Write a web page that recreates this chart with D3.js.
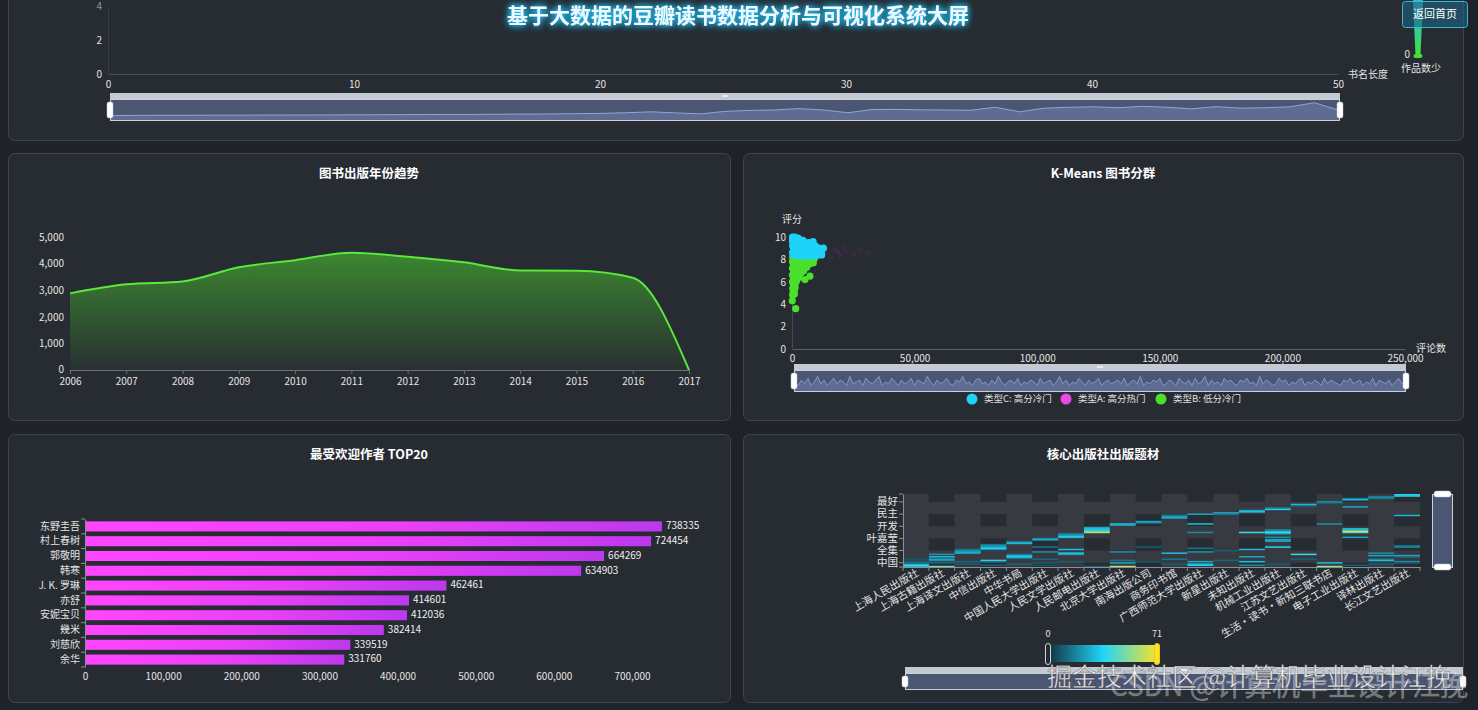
<!DOCTYPE html>
<html><head><meta charset="utf-8">
<script src="https://cdn.jsdelivr.net/npm/d3@7"></script>
<style>
body{margin:0;background:#1f2329;overflow:hidden;}
svg{display:block;font-family:"Noto Sans CJK SC","Noto Sans",sans-serif;}
</style></head><body>
<svg id="c" width="1478" height="710"></svg>
<script>
// ---------------- DATA ----------------
const pageTitle = '基于大数据的豆瓣读书数据分析与可视化系统大屏';
const titleLengthTicks = [0, 10, 20, 30, 40, 50];
const titleCountTicks = [0, 2, 4];
const titleLengthShadow = [50,51,52,52,53,53,54,55,55,56,57,58,59,60,61,62,64,65,67,70,73,80,90,78,67,95,105,110,125,110,80,115,117,112,110,107,140,90,130,140,145,135,150,140,123,147,130,135,145,190,107];

const years = [2006,2007,2008,2009,2010,2011,2012,2013,2014,2015,2016,2017];
const yearCounts = [2880,3220,3330,3860,4130,4410,4260,4050,3740,3730,3470,0];
const yearTicks = [0,1000,2000,3000,4000,5000];

const clusterNames = ['类型C: 高分冷门','类型A: 高分热门','类型B: 低分冷门'];
const clusterC = [[200,10],[1200,10],[2500,9.9],[300,9.8],[1500,9.8],[3000,9.8],[4500,9.7],[200,9.6],[1800,9.6],[3500,9.6],[5200,9.5],[6800,9.5],[8600,9.6],[500,9.4],[2200,9.4],[4000,9.4],[5800,9.3],[7500,9.3],[9500,9.2],[300,9.2],[1900,9.2],[3600,9.1],[5400,9.1],[7200,9.0],[9000,9.0],[11000,9.0],[12800,9.0],[800,8.9],[2600,8.9],[4400,8.8],[6200,8.8],[8000,8.8],[10000,8.7],[12000,8.6],[200,8.6],[1800,8.6],[3500,8.6],[5200,8.5],[7000,8.5],[8800,8.5],[10500,8.4],[12100,8.4],[500,8.4],[2300,8.3],[4200,8.3],[6000,8.3],[7800,8.3],[9500,8.3]];
const clusterA = [[14000,8.6],[17000,8.9],[19500,8.4],[22000,8.7],[25000,8.5],[16000,8.2],[28000,8.8],[21000,9.1],[31000,8.6],[18500,8.7]];
const clusterB = [[300,8.2],[2000,8.2],[3800,8.2],[5600,8.2],[7400,8.2],[9200,8.1],[800,8.0],[2600,8.0],[4400,8.0],[6200,7.9],[8200,7.9],[200,7.8],[1900,7.8],[3600,7.7],[5400,7.7],[7200,7.6],[8700,7.7],[600,7.5],[2400,7.5],[4200,7.4],[6000,7.3],[200,7.2],[1800,7.2],[3400,7.1],[4800,7.0],[700,6.9],[2200,6.8],[3800,6.8],[200,6.6],[1600,6.5],[2900,6.4],[5300,6.2],[7300,6.5],[600,6.3],[1900,6.1],[200,6.0],[1400,5.9],[600,5.7],[1300,5.5],[300,5.4],[900,5.2],[400,5.0],[1000,4.9],[300,4.8],[100,4.3],[1500,3.6]];
const reviewTicks = [0,50000,100000,150000,200000,250000];
const ratingTicks = [0,2,4,6,8,10];
const reviewShadow = [5,3,6,4,7,3,5,8,4,6,3,5,7,4,6,5,3,8,4,5,6,3,7,5,4,6,8,3,5,4,7,5,3,6,4,5,7,3,6,5,4,8,5,3,6,4,5,7,4,3,6,5,8,4,5,3,6,7,4,5,3,6,4,8,5,3,5,6,4,7,3,5,4,6,5,3,7,4,5,6,3,5,8,4,6,3,5,4,7,5,3,6,4,5,7,3,5,6,4,5,6,4,7,3,5,6,4,8,3,5,4,6,5,7,3,4,6,5,3,7,5,4,6,3,7,4,5,8,3,6,4,5,3,7,5,6,4,3,6,5,7,4,5,3,8,4,6,5,3,4,7,5,6,3,5,4,6,7,3,5,4,6,5,3,7,4,6,5,4,3,6,5,7,4,5,6,3,5,4,7,3,6,5,4,6,3,5,7,4,5];

const authors = ['东野圭吾','村上春树','郭敬明','韩寒','J. K. 罗琳','亦舒','安妮宝贝','幾米','刘慈欣','余华'];
const authorScores = [738335,724454,664269,634903,462461,414601,412036,382414,339519,331760];
const authorTicks = [0,100000,200000,300000,400000,500000,600000,700000];

const publishers = ['上海人民出版社','上海古籍出版社','上海译文出版社','中信出版社','中华书局','中国人民大学出版社','人民文学出版社','人民邮电出版社','北京大学出版社','南海出版公司','商务印书馆','广西师范大学出版社','新星出版社','未知出版社','机械工业出版社','江苏文艺出版社','生活·读书·新知三联书店','电子工业出版社','译林出版社','长江文艺出版社'];
const tags = ['小说','日本','历史','中国','文学','外国文学','传记','哲学','社会学','心理学','经济学','管理','诗歌','全集','散文','随笔','艺术','设计','建筑','电影','音乐','古典文学','诗词','叶嘉莹','编程','计算机','互联网','算法','Python','软件','Java','数据库','程序设计','开发','政治','法律','思想','文化','宗教','佛教','科普','科学','自由','民主','美国','英国','法国','德国','推理','悬疑','科幻','漫画','绘本','最好','童话','青春','爱情','成长','励志','生活'];
const tagLabelsShown = ['中国','全集','叶嘉莹','开发','民主','最好'];
const heatCells = [
 [0,0,30],[0,1,40],[0,2,28],[0,3,15],[0,4,10],[0,6,8],
 [1,3,12],[1,5,20],[1,6,25],[1,8,30],[1,10,22],[1,0,50],
 [2,11,25],[2,12,30],[2,13,20],[2,14,15],[2,4,12],[2,2,10],
 [3,14,20],[3,15,35],[3,16,30],[3,17,25],[3,18,15],[3,5,40],[3,4,15],[3,1,10],
 [4,19,30],[4,20,25],[4,7,20],[4,8,35],[4,9,30],[4,10,15],[4,2,12],
 [5,22,30],[5,23,20],[5,16,15],[5,12,20],[5,6,12],[5,3,10],[5,1,8],
 [6,24,30],[6,25,35],[6,26,25],[6,27,15],[6,14,30],[6,11,35],[6,10,25],[6,4,10],
 [7,28,60],[7,29,45],[7,30,40],[7,31,35],[7,32,25],[7,0,10],
 [8,34,25],[8,35,30],[8,12,20],[8,5,15],[8,3,25],[8,0,62],
 [9,36,20],[9,37,25],[9,16,10],[9,4,8],
 [10,40,30],[10,41,25],[10,42,15],[10,11,30],[10,6,15],[10,2,10],
 [11,43,25],[11,35,30],[11,28,20],[11,15,15],[11,12,20],[11,4,25],[11,2,30],[11,1,35],
 [12,44,30],[12,43,15],[12,13,10],[12,5,12],
 [13,45,35],[13,46,25],[13,28,40],[13,14,30],[13,8,25],[13,4,30],[13,1,20],
 [14,47,35],[14,48,20],[14,27,25],[14,28,40],[14,29,30],[14,30,20],[14,21,30],[14,22,25],[14,24,20],[14,16,35],[14,2,10],
 [15,51,30],[15,50,15],[15,10,40],[15,6,10],
 [16,53,25],[16,52,10],[16,35,20],[16,3,30],[16,0,55],
 [17,55,35],[17,56,15],[17,49,25],[17,28,45],[17,29,65],[17,30,40],[17,31,30],[17,24,25],[17,1,10],
 [18,57,25],[18,56,15],[18,11,20],[18,9,25],[18,6,15],[18,5,30],[18,2,10],
 [19,58,40],[19,59,35],[19,42,30],[19,17,15],[19,16,20],[19,9,25],[19,8,15],[19,4,20],[19,3,10]
];
const heatMax = 71;

// ---------------- DRAW ----------------
const FONT = '"Noto Sans CJK SC","Noto Sans",sans-serif';
const svg = d3.select('#c');
const defs = svg.append('defs');

svg.append('rect').attr('width',1478).attr('height',710).attr('fill','#1f2329');

const panels = [[8,-12,1455,152],[8,153,722,267],[743,153,720,267],[8,434,722,268],[743,434,720,268]];
svg.selectAll('rect.panel').data(panels).join('rect').attr('class','panel')
  .attr('x',d=>d[0]+0.5).attr('y',d=>d[1]+0.5).attr('width',d=>d[2]).attr('height',d=>d[3])
  .attr('rx',6).attr('fill','#272b32').attr('stroke','#3a4652').attr('stroke-width',1);

function styleAxis(sel, opt={}){
  const line = opt.line || '#5d636b', text = opt.text || '#e4e4e4';
  sel.attr('font-family',FONT).attr('font-size',opt.size||10);
  sel.select('.domain').attr('stroke', opt.domain===false ? 'none' : line);
  sel.selectAll('.tick line').attr('stroke',line);
  sel.selectAll('.tick text').attr('fill',text);
}
function chartTitle(x,y,t){
  svg.append('text').attr('x',x).attr('y',y).attr('text-anchor','middle').attr('dominant-baseline','middle')
    .attr('fill','#ffffff').attr('font-size',12.5).attr('font-weight','bold').text(t);
}
function slider(x,y,w,h,data,yDomain,lineW){
  const g = svg.append('g');
  g.append('rect').attr('x',x).attr('y',y).attr('width',w).attr('height',6).attr('fill','#c4c9d4');
  g.append('rect').attr('x',x+0.5).attr('y',y+6.5).attr('width',w-1).attr('height',h-7).attr('fill','#4b5673').attr('stroke','#c9d0dc').attr('stroke-width',1);
  if(data){
    const sx = d3.scaleLinear([0,data.length-1],[x+1,x+w-1]);
    const sy = d3.scaleLinear(yDomain,[y+h-1,y+7]);
    g.append('path').datum(data).attr('d',d3.area().x((d,i)=>sx(i)).y0(y+h-1).y1(d=>sy(d))).attr('fill','rgba(140,160,215,0.3)');
    g.append('path').datum(data).attr('d',d3.line().x((d,i)=>sx(i)).y(d=>sy(d))).attr('fill','none').attr('stroke','#93a5d6').attr('stroke-width',lineW||1);
  }
  [x, x+w].forEach(hx=>{
    g.append('rect').attr('x',hx-3).attr('y',y+9).attr('width',6).attr('height',h-12).attr('rx',2).attr('fill','#ffffff').attr('stroke','#b8c0cc').attr('stroke-width',0.5);
  });
  g.append('rect').attr('x',x+w/2-3).attr('y',y+2).attr('width',6).attr('height',2).attr('fill','#e8ecf2');
  return g;
}

// ----- Top panel -----
const glow = defs.append('filter').attr('id','glow').attr('x','-10%').attr('y','-60%').attr('width','120%').attr('height','220%');
glow.append('feGaussianBlur').attr('in','SourceAlpha').attr('stdDeviation',3.5).attr('result','b');
glow.append('feFlood').attr('flood-color','#1ec8ff').attr('flood-opacity',1);
glow.append('feComposite').attr('in2','b').attr('operator','in').attr('result','g');
const fm = glow.append('feMerge');
fm.append('feMergeNode').attr('in','g'); fm.append('feMergeNode').attr('in','g'); fm.append('feMergeNode').attr('in','SourceGraphic');
svg.append('text').attr('x',738).attr('y',17).attr('text-anchor','middle').attr('dominant-baseline','middle')
  .attr('fill','#ecfbff').attr('font-size',21).attr('font-weight','bold').attr('filter','url(#glow)').text(pageTitle);

const xTop = d3.scaleLinear([0,50],[108,1338]);
const yTop = d3.scaleLinear([0,4],[74,6]);
svg.append('g').attr('transform','translate(0,74)').call(d3.axisBottom(xTop).tickValues(titleLengthTicks).tickSize(0).tickPadding(7))
  .call(s=>styleAxis(s,{line:'#4a4f57'}));
svg.append('g').attr('transform','translate(108,0)').call(d3.axisLeft(yTop).tickValues(titleCountTicks).tickFormat(d3.format('d')).tickSize(0).tickPadding(6))
  .call(s=>styleAxis(s,{line:'#383d44'}))
  .call(s=>s.selectAll('.tick text').filter(d=>d===4).attr('fill','#8d9299'));
svg.append('text').attr('x',1368).attr('y',75).attr('text-anchor','middle').attr('dominant-baseline','middle').attr('fill','#e4e4e4').attr('font-size',10).text('书名长度');
slider(110,93,1230,28,titleLengthShadow,[0,220],1);

const gv = defs.append('linearGradient').attr('id','gvm').attr('x1',0).attr('y1',0).attr('x2',0).attr('y2',1);
gv.append('stop').attr('offset',0).attr('stop-color','#3ab8c8');
gv.append('stop').attr('offset',0.45).attr('stop-color','#36c6a8');
gv.append('stop').attr('offset',1).attr('stop-color','#3ee43a');
svg.append('path').attr('d','M1413,0 L1423,0 L1420.5,55 L1415.5,55 Z').attr('fill','url(#gvm)');
svg.append('rect').attr('x',1413.5).attr('y',54).attr('width',9).attr('height',4).attr('rx',2).attr('fill','#49d93a');
svg.append('text').attr('x',1410).attr('y',55).attr('text-anchor','end').attr('dominant-baseline','middle').attr('fill','#e4e4e4').attr('font-size',10).text('0');
svg.append('text').attr('x',1421).attr('y',69).attr('text-anchor','middle').attr('dominant-baseline','middle').attr('fill','#e4e4e4').attr('font-size',10).text('作品数少');
svg.append('rect').attr('x',1402.5).attr('y',1.5).attr('width',65).attr('height',26).attr('rx',3).attr('fill','rgba(28,100,128,0.6)').attr('stroke','#3db6d6');
svg.append('text').attr('x',1435).attr('y',15).attr('text-anchor','middle').attr('dominant-baseline','middle').attr('fill','#ffffff').attr('font-size',11).text('返回首页');

// ----- Year trend -----
chartTitle(369,175,'图书出版年份趋势');
const xY = d3.scalePoint(years,[70,689]);
const yY = d3.scaleLinear([0,5000],[370,237]);
const ga = defs.append('linearGradient').attr('id','garea').attr('x1',0).attr('y1',0).attr('x2',0).attr('y2',1);
ga.append('stop').attr('offset',0).attr('stop-color','#4cd32e').attr('stop-opacity',0.55);
ga.append('stop').attr('offset',1).attr('stop-color','#4cd32e').attr('stop-opacity',0.03);
const yd = years.map((y,i)=>[y,yearCounts[i]]);
svg.append('path').datum(yd).attr('d',d3.area().curve(d3.curveMonotoneX).x(d=>xY(d[0])).y0(yY(0)).y1(d=>yY(d[1]))).attr('fill','url(#garea)');
svg.append('path').datum(yd).attr('d',d3.line().curve(d3.curveMonotoneX).x(d=>xY(d[0])).y(d=>yY(d[1]))).attr('fill','none').attr('stroke','#5ae83a').attr('stroke-width',2);
svg.append('g').attr('transform','translate(0,370)').call(d3.axisBottom(xY).tickSize(4).tickSizeOuter(0).tickPadding(4))
  .call(s=>styleAxis(s,{line:'#6b7078'}));
svg.append('g').attr('transform','translate(70,0)').call(d3.axisLeft(yY).tickValues(yearTicks).tickFormat(d3.format(',')).tickSize(0).tickPadding(6))
  .call(s=>styleAxis(s,{domain:false}))
  .call(s=>s.selectAll('.tick text').filter(d=>d===0).attr('dy','0.2em'));

// ----- K-Means scatter -----
chartTitle(1103,175,'K-Means 图书分群');
const xS = d3.scaleLinear([0,250000],[792,1405]);
const yS = d3.scaleLinear([0,10],[349,237]);
svg.append('g').attr('transform','translate(0,349)').call(d3.axisBottom(xS).tickValues(reviewTicks).tickFormat(d3.format(',')).tickSize(0).tickPadding(6))
  .call(s=>styleAxis(s,{line:'#5a6068'}));
svg.append('g').attr('transform','translate(792,0)').call(d3.axisLeft(yS).tickValues(ratingTicks).tickSize(0).tickPadding(6))
  .call(s=>styleAxis(s,{line:'#454a52'}));
svg.append('text').attr('x',792).attr('y',220).attr('text-anchor','middle').attr('dominant-baseline','middle').attr('fill','#e4e4e4').attr('font-size',10).text('评分');
svg.append('text').attr('x',1416).attr('y',349).attr('dominant-baseline','middle').attr('fill','#e4e4e4').attr('font-size',10).text('评论数');
const clusterColors = ['#1ed2f8','#e84ae8','#4ae02c'];
svg.append('g').selectAll('circle').data(clusterA).join('circle').attr('cx',d=>xS(d[0])).attr('cy',d=>yS(d[1])).attr('r',3).attr('fill',clusterColors[1]).attr('opacity',0.07);
svg.append('g').selectAll('circle').data(clusterB).join('circle').attr('cx',d=>xS(d[0])).attr('cy',d=>yS(d[1])).attr('r',3.6).attr('fill',clusterColors[2]);
svg.append('g').selectAll('circle').data(clusterC).join('circle').attr('cx',d=>xS(d[0])).attr('cy',d=>yS(d[1])).attr('r',3.6).attr('fill',clusterColors[0]);
slider(794,364,612,28,reviewShadow,[0,11],0.8);
const legX = [972,1066,1161];
clusterNames.forEach((n,i)=>{
  svg.append('circle').attr('cx',legX[i]).attr('cy',399).attr('r',5.5).attr('fill',clusterColors[i]);
  svg.append('text').attr('x',legX[i]+12).attr('y',399).attr('dominant-baseline','middle').attr('fill','#e0e0e0').attr('font-size',9.5).text(n);
});

// ----- Authors bar -----
chartTitle(369,456,'最受欢迎作者 TOP20');
const yB = d3.scaleBand(authors,[519,667]).paddingInner(0.32).paddingOuter(0.16);
const xB = d3.scaleLinear([0,700000],[85,632]);
const gb = defs.append('linearGradient').attr('id','gbar').attr('x1',0).attr('y1',0).attr('x2',1).attr('y2',0);
gb.append('stop').attr('offset',0).attr('stop-color','#ff46ff');
gb.append('stop').attr('offset',0.55).attr('stop-color','#ea40f8');
gb.append('stop').attr('offset',1).attr('stop-color','#bd38ee');
const ad = authors.map((a,i)=>[a,authorScores[i]]);
svg.append('g').selectAll('rect').data(ad).join('rect').attr('x',xB(0)).attr('y',d=>yB(d[0])).attr('width',d=>xB(d[1])-xB(0)).attr('height',yB.bandwidth()).attr('fill','url(#gbar)');
svg.append('g').selectAll('text').data(ad).join('text').attr('x',d=>xB(d[1])+4).attr('y',d=>yB(d[0])+yB.bandwidth()/2).attr('dominant-baseline','middle').attr('fill','#f0f0f0').attr('font-size',10).text(d=>d[1]);
svg.append('g').attr('transform','translate(85,0)').call(d3.axisLeft(yB).tickSize(0).tickPadding(5))
  .call(s=>styleAxis(s,{line:'#8a9098'}));
svg.append('g').selectAll('line').data(d3.range(authors.length+1)).join('line')
  .attr('x1',81).attr('x2',85).attr('y1',i=>519+i*yB.step()).attr('y2',i=>519+i*yB.step()).attr('stroke','#8a9098');
svg.append('g').attr('transform','translate(0,671)').call(d3.axisBottom(xB).tickValues(authorTicks).tickFormat(d3.format(',')).tickSize(0).tickPadding(2))
  .call(s=>styleAxis(s,{domain:false}));

// ----- Heatmap -----
chartTitle(1103,456,'核心出版社出版题材');
const xH = d3.scaleBand(publishers,[903,1420]);
const yH = d3.scaleBand(tags,[567,494]);
const heatColor = d3.scaleLinear([0,heatMax/2,heatMax],['#12303f','#1fd6fa','#fbe22a']);
const shownIdx = tagLabelsShown.map(t=>tags.indexOf(t));
const bandEdges = [567].concat(shownIdx.map(i=>yH(tags[i])+yH.bandwidth()/2)).concat([494]);
const splitCells = [];
publishers.forEach((p,ci)=>{
  for(let b=0;b<bandEdges.length-1;b++){
    const light = (ci%2===0) || (b%2===1);
    if(light) splitCells.push([xH(p), bandEdges[b+1], bandEdges[b]-bandEdges[b+1]]);
  }
});
svg.append('g').selectAll('rect').data(splitCells).join('rect').attr('x',d=>d[0]).attr('y',d=>d[1]).attr('width',xH.bandwidth()).attr('height',d=>d[2]).attr('fill','rgba(255,255,255,0.075)');
svg.append('g').selectAll('rect').data(heatCells).join('rect')
  .attr('x',d=>xH(publishers[d[0]])).attr('y',d=>yH(tags[d[1]])).attr('width',xH.bandwidth()).attr('height',yH.bandwidth()+0.3)
  .attr('fill',d=>heatColor(d[2]));
svg.append('g').attr('transform','translate(903,0)').call(d3.axisLeft(yH).tickValues(tagLabelsShown).tickSize(0).tickPadding(5))
  .call(s=>styleAxis(s,{line:'#8a9098',size:10.5}));
svg.append('g').selectAll('line').data(bandEdges).join('line').attr('x1',899).attr('x2',903).attr('y1',d=>d).attr('y2',d=>d).attr('stroke','#8a9098');
const hx = svg.append('g').attr('transform','translate(0,567)').call(d3.axisBottom(xH).tickSize(0).tickPadding(0))
  .call(s=>styleAxis(s,{line:'#8a9098',size:10.5}));
hx.selectAll('.tick text').attr('y',5).attr('x',-1).attr('dy','0.35em').attr('text-anchor','end').attr('transform','rotate(-30)');
svg.append('g').selectAll('line').data(d3.range(publishers.length+1)).join('line')
  .attr('x1',i=>903+i*xH.step()).attr('x2',i=>903+i*xH.step()).attr('y1',567).attr('y2',571).attr('stroke','#8a9098');
svg.append('rect').attr('x',1432.5).attr('y',494.5).attr('width',20).attr('height',73).attr('fill','#4b5673').attr('stroke','#c9d0dc');
[494,567].forEach(yy=>svg.append('rect').attr('x',1434).attr('y',yy-3).attr('width',17).attr('height',6).attr('rx',2.5).attr('fill','#fff').attr('stroke','#b8c0cc').attr('stroke-width',0.5));
const gh = defs.append('linearGradient').attr('id','gheat').attr('x1',0).attr('y1',0).attr('x2',1).attr('y2',0);
[0,0.5,1].forEach(o=>gh.append('stop').attr('offset',o).attr('stop-color',heatColor(o*heatMax)));
svg.append('rect').attr('x',1048).attr('y',645).attr('width',110).attr('height',17).attr('fill','url(#gheat)');
svg.append('rect').attr('x',1045.5).attr('y',643.5).attr('width',5).attr('height',21).attr('rx',2.5).attr('fill','#262a31').attr('stroke','#cfd4dc');
svg.append('rect').attr('x',1154.5).attr('y',643.5).attr('width',5).attr('height',21).attr('rx',2.5).attr('fill','#fbe22a').attr('stroke','#f3c81a');
svg.append('text').attr('x',1048).attr('y',635).attr('text-anchor','middle').attr('dominant-baseline','middle').attr('fill','#e4e4e4').attr('font-size',9).text('0');
svg.append('text').attr('x',1157).attr('y',635).attr('text-anchor','middle').attr('dominant-baseline','middle').attr('fill','#e4e4e4').attr('font-size',9).text(heatMax);
slider(905,667,558,23,null);

// watermark
svg.append('text').attr('x',1110).attr('y',696).attr('fill','rgba(255,255,255,0.35)').attr('stroke','rgba(200,200,200,0.35)').attr('stroke-width',0.6).attr('font-size',28).text('CSDN @计算机毕业设计江挽');
svg.append('text').attr('x',1047).attr('y',686).attr('fill','rgba(255,255,255,0.88)').attr('stroke','rgba(40,40,40,0.45)').attr('stroke-width',0.8).attr('font-size',25).text('掘金技术社区 @计算机毕业设计江挽');
</script>
</body></html>
